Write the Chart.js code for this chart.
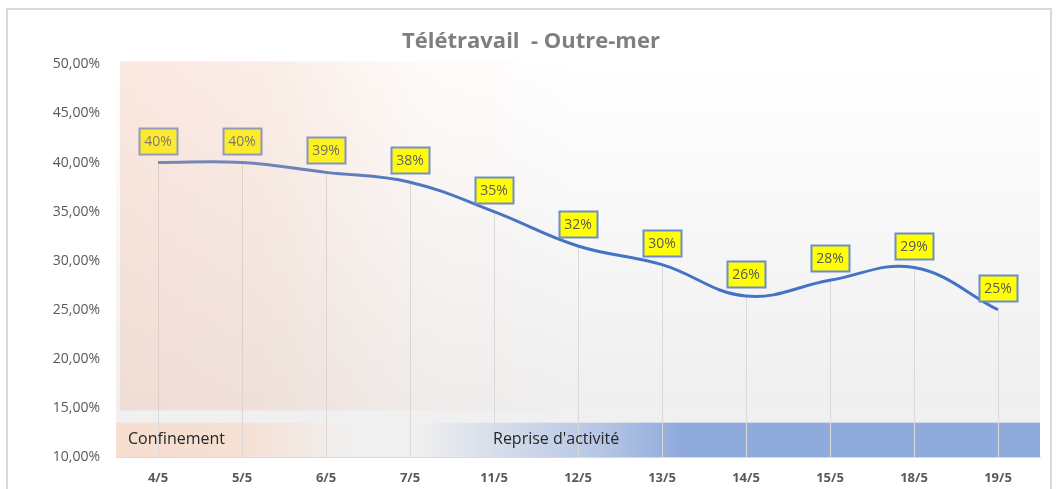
<!DOCTYPE html>
<html>
<head>
<meta charset="utf-8">
<script src="https://cdn.jsdelivr.net/npm/chart.js@4.4.1/dist/chart.umd.min.js"></script>
<style>
  html, body { margin: 0; padding: 0; background: #fff; }
  #frame { position: absolute; left: 6px; top: 8px; width: 1046px; height: 490px; border: 2px solid #d9d9d9; box-sizing: border-box; }
  #wrap { position: absolute; left: 0; top: 0; width: 1062px; height: 489px; }
</style>
</head>
<body>
<div id="frame"></div>
<div id="wrap"><canvas id="mycanvas" width="1062" height="489"></canvas></div>
<script>
// chart data
var dates = ['4/5', '5/5', '6/5', '7/5', '11/5', '12/5', '13/5', '14/5', '15/5', '18/5', '19/5'];
var teletravail = [40, 40, 39, 38, 35, 31.5, 29.6, 26.4, 28, 29.3, 25];
var phaseNames = ['Confinement', "Reprise d'activité"];
var chartTitle = 'Télétravail  - Outre-mer';

var FONT = "'Open Sans', 'DejaVu Sans', sans-serif";

// backgrounds, drop lines, labels and the phase band
var decor = {
    id: 'decor',
    beforeDatasetsDraw: function (chart) {
        var ctx = chart.ctx;
        var a = chart.chartArea;
        var y = chart.scales.y;
        var top = a.top - 3;
        var bandTop = y.getPixelForValue(13.5);
        var peachBottom = y.getPixelForValue(14.75);
        ctx.save();

        // plot background, light vertical gradient
        var g = ctx.createLinearGradient(0, top, 0, bandTop);
        g.addColorStop(0, '#ffffff');
        g.addColorStop(1, '#eeeeee');
        ctx.fillStyle = g;
        ctx.fillRect(a.left, top, a.right - a.left, bandTop - top);
        ctx.fillStyle = '#f0f0f0';
        ctx.fillRect(a.left, peachBottom, a.right - a.left, bandTop - peachBottom);

        // phase band
        var bh = a.bottom - bandTop;
        ctx.fillStyle = '#f0f0f0';
        ctx.fillRect(a.left, bandTop, a.right - a.left, bh);
        var gp = ctx.createLinearGradient(a.left, 0, a.left + 240, 0);
        gp.addColorStop(0, 'rgba(246,222,208,1)');
        gp.addColorStop(0.5, 'rgba(246,222,208,0.9)');
        gp.addColorStop(1, 'rgba(246,222,208,0)');
        ctx.fillStyle = gp;
        ctx.fillRect(a.left, bandTop, 240, bh);
        var gb = ctx.createLinearGradient(a.left + 300, 0, a.left + 565, 0);
        gb.addColorStop(0, 'rgba(143,170,220,0)');
        gb.addColorStop(0.7, 'rgba(143,170,220,0.6)');
        gb.addColorStop(1, 'rgba(143,170,220,1)');
        ctx.fillStyle = gb;
        ctx.fillRect(a.left + 300, bandTop, 265, bh);
        ctx.fillStyle = '#8faadc';
        ctx.fillRect(a.left + 565, bandTop, a.right - a.left - 565, bh);

        // drop lines from each point to the axis
        var meta = chart.getDatasetMeta(0);
        ctx.strokeStyle = '#d9d9d9';
        ctx.lineWidth = 1;
        meta.data.forEach(function (pt) {
            var x = Math.round(pt.x) + 0.5;
            ctx.beginPath();
            ctx.moveTo(x, pt.y);
            ctx.lineTo(x, a.bottom);
            ctx.stroke();
        });

        // phase names
        ctx.fillStyle = '#262626';
        ctx.font = '16px ' + FONT;
        ctx.textBaseline = 'middle';
        ctx.textAlign = 'left';
        var by = bandTop + bh / 2;
        ctx.fillText(phaseNames[0], a.left + 12, by);
        ctx.fillText(phaseNames[1], chart.scales.x.getPixelForValue(4) - 1, by);
        ctx.restore();
    },
    afterDatasetsDraw: function (chart) {
        var ctx = chart.ctx;
        var a = chart.chartArea;
        var meta = chart.getDatasetMeta(0);
        ctx.save();
        ctx.font = '14px ' + FONT;
        ctx.textAlign = 'center';
        ctx.textBaseline = 'middle';
        meta.data.forEach(function (pt, i) {
            var w = 38, h = 26;
            var x = Math.round(pt.x - w / 2) + 0.5;
            var yb = Math.round(pt.y - 9 - h) + 0.5;
            ctx.fillStyle = '#ffff00';
            ctx.fillRect(x, yb, w, h);
            ctx.strokeStyle = '#6d8ccc';
            ctx.lineWidth = 2;
            ctx.strokeRect(x, yb, w, h);
            ctx.fillStyle = '#595959';
            ctx.fillText(Math.round(teletravail[i]) + '%', pt.x, yb + h / 2 + 1);
        });

        // peach wash over the lockdown period
        var y = chart.scales.y;
        var top = a.top - 3;
        var peachBottom = y.getPixelForValue(14.75);
        var gw = ctx.createLinearGradient(a.left + 4, 0, a.left + 460, 0);
        gw.addColorStop(0, 'rgba(240,185,160,0.32)');
        gw.addColorStop(0.3, 'rgba(240,185,160,0.27)');
        gw.addColorStop(0.65, 'rgba(240,185,160,0.07)');
        gw.addColorStop(1, 'rgba(240,185,160,0)');
        ctx.fillStyle = gw;
        ctx.fillRect(a.left + 4, top, 456, peachBottom - top);
        ctx.restore();
    }
};

var ctx = document.getElementById('mycanvas');

var lineChart = new Chart(ctx, {
    type: 'line',
    data: {
        labels: dates,
        datasets: [
            {
                label: 'Télétravail',
                data: teletravail,
                borderColor: '#4472c4',
                borderWidth: 3,
                pointRadius: 0,
                tension: 0.4,
                fill: false
            }
        ]
    },
    options: {
        responsive: false,
        animation: false,
        layout: { padding: { left: 22, right: 22, top: 0, bottom: 0 } },
        plugins: {
            legend: { display: false },
            tooltip: { enabled: false },
            title: {
                display: true,
                text: chartTitle,
                color: '#7f7f7f',
                font: { family: FONT, size: 22, weight: 'bold' },
                padding: { top: 29, bottom: 9 }
            }
        },
        scales: {
            x: {
                offset: true,
                grid: { display: false, drawTicks: false },
                border: { display: true, color: '#d9d9d9' },
                ticks: {
                    color: '#595959',
                    padding: 13,
                    font: { family: FONT, size: 13, weight: 'bold' }
                },
                afterFit: function (s) { s.height = 32; }
            },
            y: {
                min: 10,
                max: 50,
                grid: { display: false, drawTicks: false },
                border: { display: false },
                ticks: {
                    stepSize: 5,
                    padding: 16,
                    color: '#595959',
                    font: { family: FONT, size: 14 },
                    callback: function (v) { return v.toFixed(2).replace('.', ',') + '%'; }
                },
                afterFit: function (s) { s.width = 94; }
            }
        }
    },
    plugins: [decor]
});
</script>
</body>
</html>
